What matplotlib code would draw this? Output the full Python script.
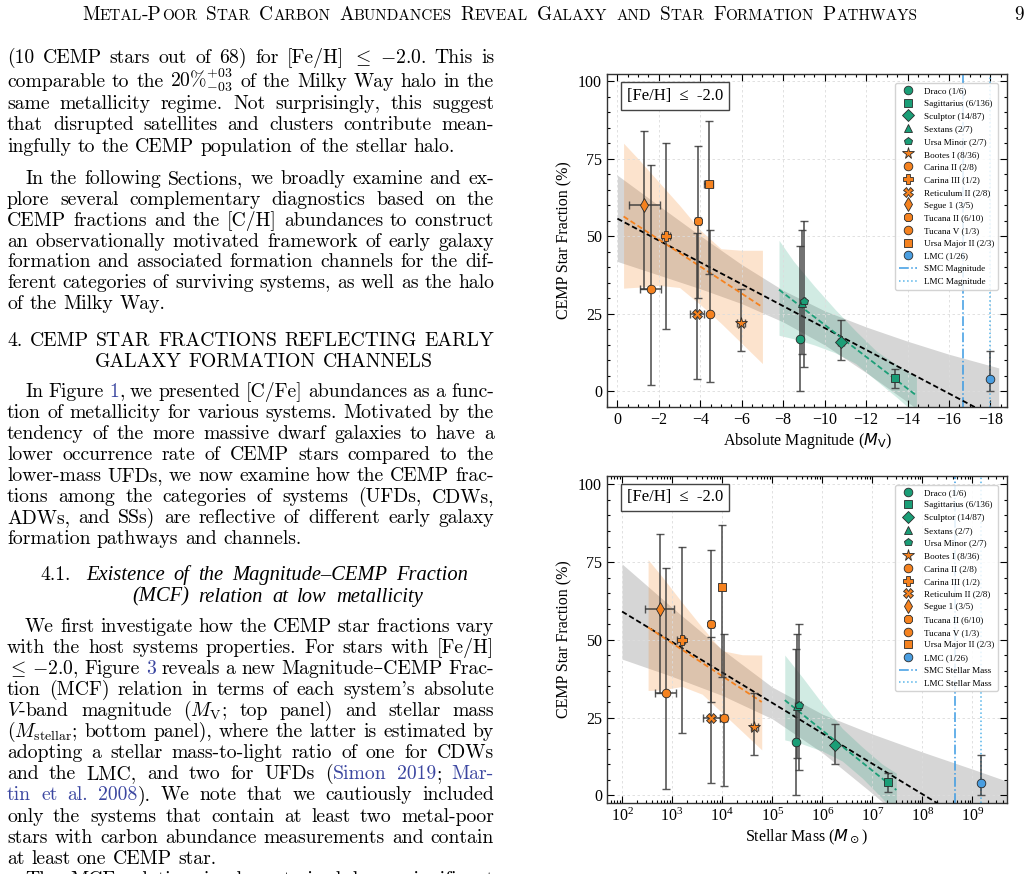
import re
import matplotlib
matplotlib.use('Agg')
import matplotlib.pyplot as plt
from matplotlib.transforms import IdentityTransform
from matplotlib.ticker import MultipleLocator, AutoMinorLocator, LogLocator, NullFormatter

W, H = 1034, 874

# ---------------- data ----------------
systems = ['Draco', 'Sagittarius', 'Sculptor', 'Sextans', 'Ursa Minor',
           'Bootes I', 'Carina II', 'Carina III', 'Reticulum II', 'Segue 1',
           'Tucana II', 'Tucana V', 'Ursa Major II', 'LMC']
counts = ['1/6', '6/136', '14/87', '2/7', '2/7', '8/36', '2/8', '1/2', '2/8',
          '3/5', '6/10', '1/3', '2/3', '1/26']
kinds = ['CDW'] * 5 + ['UFD'] * 8 + ['LMC']
markers = ['o', 's', 'D', '^', 'p', '*', 'o', 'P', 'X', 'd', '8', 'o', 's', 'o']

frac = [17, 4.4, 16, 28.6, 29, 22, 25, 50, 25, 60, 55, 33, 67, 4]
frac_hi = [47, 7.1, 23, 52, 55, 33, 52, 80, 51, 84, 79, 73, 87, 13]
frac_lo = [0, 1.1, 10, 12, 8, 13, 3, 20, 4, 33, 30, 2, 38, 0]

mv = [-8.8, -13.4, -10.8, -8.9, -9.0, -5.95, -4.45, -2.35, -3.85, -1.3,
      -3.9, -1.6, -4.4, -18.0]
mv_err = [0.05, 0.1, 0.14, 0.06, 0.06, 0.2, 0.1, 0.2, 0.35, 0.75, 0.15, 0.5,
          0.2, 0.05]

mstar = [3.0e5, 2.1e7, 1.8e6, 3.1e5, 3.5e5, 4.4e4, 1.07e4, 1.55e3, 6.1e3,
         5.6e2, 6.1e3, 7.6e2, 9.9e3, 1.5e9]
mstar_errlo = [3e4, 2e6, 2e5, 3e4, 3e4, 7e3, 1.5e3, 300, 1.9e3, 275, 800,
               295, 1.3e3, 1e8]
mstar_errhi = [3e4, 2e6, 2e5, 3e4, 3e4, 7e3, 1.5e3, 300, 2.8e3, 535, 800,
               455, 1.3e3, 1e8]

smc_mv, lmc_mv = -16.7, -18.0
smc_mass, lmc_mass = 4.4e8, 1.5e9

# fits and confidence bands, magnitude panel
all_fit_mv = [0, -18.4]
all_fit_mv_y = [55.7, -9.1]
all_band_mv = [0, -2, -4, -6, -8, -10, -12, -14, -16, -18.4]
all_band_mv_hi = [69.7, 59.9, 50.2, 40.9, 32.6, 26.0, 20.8, 16.2, 12.0, 7.6]
all_band_mv_lo = [41.9, 37.5, 33.1, 28.3, 22.4, 15.0, 6.1, -3.4, -13.2, -25.3]

ufd_fit_mv = [-0.3, -7]
ufd_fit_mv_y = [56.4, 27.2]
ufd_band_mv = [-0.3, -1, -2, -3, -4, -5, -6, -7]
ufd_band_mv_hi = [80, 75, 67.5, 60, 52, 46, 45.5, 45.5]
ufd_band_mv_lo = [33.3, 33.6, 34.2, 33.5, 28, 22, 15.5, 9]

cdw_fit_mv = [-7.8, -14.43]
cdw_fit_mv_y = [32.8, -1.3]
cdw_band_mv = [-7.8, -8.5, -9.5, -10.5, -11.5, -12.5, -13.5, -14.43]
cdw_band_mv_hi = [48.7, 42, 34, 26.5, 19.5, 13, 8.5, 4.6]
cdw_band_mv_lo = [18.1, 17, 15, 12.5, 9, 3.5, -2, -7.5]

# fits and confidence bands, stellar mass panel
all_fit_m = [1e2, 4.9e9]
all_fit_m_y = [59.1, -16.2]
all_band_m = [1e2, 1e3, 1e4, 1e5, 1e6, 1e7, 1e8, 1e9, 4.9e9]
all_band_m_hi = [74.4, 60.4, 46.9, 34.8, 26.1, 19.7, 13.9, 8.4, 4.5]
all_band_m_lo = [43.8, 38.2, 32.1, 24.6, 13.7, 0.6, -13.3, -27.4, -36.9]

ufd_fit_m = [331, 6.17e4]
ufd_fit_m_y = [54, 30]
ufd_band_m = [331, 631, 1585, 3981, 1e4, 2.51e4, 6.17e4]
ufd_band_m_hi = [75.8, 70.3, 62, 54, 46.5, 45.2, 45.1]
ufd_band_m_lo = [33.7, 33.9, 35, 32.5, 26.5, 20.5, 14.6]

cdw_fit_m = [1.78e5, 3.02e7]
cdw_fit_m_y = [30.6, 1.7]
cdw_band_m = [1.78e5, 3.98e5, 1e6, 2.51e6, 6.31e6, 1.58e7, 3.02e7]
cdw_band_m_hi = [45.1, 38, 29.5, 21.5, 15.5, 10, 7.1]
cdw_band_m_lo = [17.8, 16.5, 14.2, 11, 5.5, -1, -6]

# page text
header = "Metal-Poor Star Carbon Abundances Reveal Galaxy and Star Formation Pathways"
para1 = ["(10 CEMP stars out of 68) for [Fe/H] $\\leq$ $-2.0$. This is",
         "comparable to the $20\\%^{+03}_{-03}$ of the Milky Way halo in the",
         "same metallicity regime. Not surprisingly, this suggest",
         "that disrupted satellites and clusters contribute mean-",
         "ingfully to the CEMP population of the stellar halo."]
para2 = ["In the following Sections, we broadly examine and ex-",
         "plore several complementary diagnostics based on the",
         "CEMP fractions and the [C/H] abundances to construct",
         "an observationally motivated framework of early galaxy",
         "formation and associated formation channels for the dif-",
         "ferent categories of surviving systems, as well as the halo",
         "of the Milky Way."]
section = ["4. CEMP STAR FRACTIONS REFLECTING EARLY",
           "GALAXY FORMATION CHANNELS"]
para3 = ["In Figure <1>, we presented [C/Fe] abundances as a func-",
         "tion of metallicity for various systems. Motivated by the",
         "tendency of the more massive dwarf galaxies to have a",
         "lower occurrence rate of CEMP stars compared to the",
         "lower-mass UFDs, we now examine how the CEMP frac-",
         "tions among the categories of systems (UFDs, CDWs,",
         "ADWs, and SSs) are reflective of different early galaxy",
         "formation pathways and channels."]
subsection = ["Existence of the Magnitude\u2013CEMP Fraction",
              "(MCF) relation at low metallicity"]
para4 = ["We first investigate how the CEMP star fractions vary",
         "with the host systems properties. For stars with [Fe/H]",
         "$\\leq$ $-2.0$, Figure <3> reveals a new Magnitude\u2013CEMP Frac-",
         "tion (MCF) relation in terms of each system's absolute",
         "$V$-band magnitude ($M_\\mathrm{V}$; top panel) and stellar mass",
         "($M_\\mathrm{stellar}$; bottom panel), where the latter is estimated by",
         "adopting a stellar mass-to-light ratio of one for CDWs",
         "and the LMC, and two for UFDs (<Simon> <2019>; <Mar->",
         "<tin> <et> <al.> <2008>). We note that we cautiously included",
         "only the systems that contain at least two metal-poor",
         "stars with carbon abundance measurements and contain",
         "at least one CEMP star.",
         "The MCF relation is characterized by a significant"]

# ---------------- style ----------------
plt.rcParams['font.family'] = ['Liberation Serif', 'DejaVu Serif']
plt.rcParams['axes.unicode_minus'] = True

ORANGE = '#f5821f'
GREEN = '#1b9e77'
BLUE = '#4a9ee0'
kind_color = {'CDW': GREEN, 'UFD': ORANGE, 'LMC': BLUE}
LINK = '#3b46a0'
BODY_FONT = ['cmr10', 'DejaVu Serif']
BODY = 14.2
LEFT, RIGHT = 7, 494

fig = plt.figure(figsize=(W / 100, H / 100), dpi=100)
renderer = fig.canvas.get_renderer()


def seg(s, color='black', size=BODY, **kw):
    props = dict(family=BODY_FONT, math_fontfamily='cm')
    props.update(kw)
    return fig.text(0, 0, s, transform=IdentityTransform(), fontsize=size,
                    color=color, va='baseline', ha='left', **props)


def parse_word(word, **kw):
    out = []
    for p in re.split(r'(<[^>]*>)', word):
        if not p:
            continue
        if p.startswith('<'):
            out.append(seg(p[1:-1], color=LINK, **kw))
        else:
            out.append(seg(p, **kw))
    return out


def place(words, y_img, x0, x1=None, space=6.5):
    # words: list of lists of Text objects; justified if x1 is given
    y = H - y_img
    widths = [[t.get_window_extent(renderer).width for t in w] for w in words]
    total = sum(sum(w) for w in widths)
    gap = space
    if x1 is not None and len(words) > 1:
        gap = (x1 - x0 - total) / (len(words) - 1)
    x = x0
    for w, ws in zip(words, widths):
        for t, wd in zip(w, ws):
            t.set_position((x, y))
            x += wd
        x += gap


def paragraph(lines, y0, step, indent=True, last_full=False):
    for i, line in enumerate(lines):
        words = [parse_word(w) for w in line.split()]
        x0 = LEFT + (18 if (indent and i == 0) else 0)
        full = (i < len(lines) - 1) or last_full
        place(words, y0 + i * step, x0, RIGHT if full else None)


def smallcaps(word, big, small):
    parts = []
    for c in word:
        size = big if (c.isupper() or not c.isalpha()) else small
        ch = c.upper()
        if parts and parts[-1][1] == size:
            parts[-1][0] += ch
        else:
            parts.append([ch, size])
    return [seg(p, size=s) for p, s in parts]


# header
place([smallcaps(w, 13.9, 11.0) for w in header.split()], 20.5, 82, 917)
seg('9', size=13.9).set_position((1014, H - 20.5))

paragraph(para1[:1], 63.3, 21.5, indent=False, last_full=True)
paragraph(para1[1:], 87.0, 21.6, indent=False)
paragraph(para2, 184.5, 20.7)
place([parse_word(w) for w in section[0].split()], 346, LEFT, RIGHT)
place([parse_word(w) for w in section[1].split()], 366.7, 95, 433)
paragraph(para3, 396.7, 21.1)
place([parse_word('4.1.')], 580, 40)
place([parse_word(w, family=['Liberation Serif', 'DejaVu Serif'], style='italic',
                   size=14.8) for w in subsection[0].split()], 580, 86, 468)
place([parse_word(w, family=['Liberation Serif', 'DejaVu Serif'], style='italic',
                   size=14.8) for w in subsection[1].split()], 601.7, 132, 423)
paragraph(para4[:12], 631.7, 21.1)
paragraph(para4[12:], 631.7 + 12 * 21.1, 21.1, last_full=True)

# ---------------- the two panels ----------------
ax1 = fig.add_axes([607 / W, 1 - 407 / H, 400 / W, 333 / H])
ax2 = fig.add_axes([607 / W, 1 - 803 / H, 400 / W, 327.3 / H])


def draw_panel(ax, xs, xlo, xhi, bands, fits, vlines, vlabels):
    for (bx, bhi, blo), col, a in bands:
        ax.fill_between(bx, blo, bhi, color=col, alpha=a, lw=0, zorder=1)
    for (fx, fy), col in fits:
        ax.plot(fx, fy, ls=(0, (3, 1.6)), color=col, lw=1.3, zorder=3)
    for i, name in enumerate(systems):
        col = kind_color[kinds[i]]
        ax.errorbar(xs[i], frac[i], xerr=[[xlo[i]], [xhi[i]]],
                    yerr=[[frac[i] - frac_lo[i]], [frac_hi[i] - frac[i]]],
                    fmt='none', ecolor='#3a3a3a', elinewidth=1.2, capsize=2.6,
                    capthick=1.0, alpha=0.85, zorder=4)
        ms = {'*': 8.5, 'D': 6.0, 'd': 7.0, 'P': 7.0, 'X': 7.0}.get(markers[i], 6.2)
        ax.plot(xs[i], frac[i], ls='none', marker=markers[i], ms=ms, mfc=col,
                mec='#2a2a2a', mew=0.6, zorder=5,
                label=f'{name} ({counts[i]})')
    ax.axvline(vlines[0], color='#3c9be3', ls='-.', lw=1.1, zorder=2,
               label=vlabels[0])
    ax.axvline(vlines[1], color='#56b4e9', ls=':', lw=1.1, zorder=2,
               label=vlabels[1])
    ax.grid(True, which='major', ls=(0, (3, 3)), lw=0.6, color='#dcdcdc', zorder=0)
    ax.tick_params(which='both', direction='in', top=True, right=True,
                   labelsize=11.5, width=0.8)
    ax.tick_params(which='major', length=5)
    ax.tick_params(which='minor', length=2.5)
    ax.set_ylabel('CEMP Star Fraction (%)', fontsize=11.5)
    ax.yaxis.set_major_locator(MultipleLocator(25))
    ax.yaxis.set_minor_locator(MultipleLocator(5))
    for s in ax.spines.values():
        s.set_linewidth(1.0)
        s.set_color('#333333')
    ax.text(0.05, 0.958, '[Fe/H]  \u2264  -2.0', transform=ax.transAxes,
            fontsize=12, va='top', ha='left', zorder=7,
            bbox=dict(boxstyle='square,pad=0.35', fc='white', ec='#444444', lw=1.0))
    leg = ax.legend(loc='upper right', fontsize=6.6, framealpha=0.85,
                    edgecolor='#cccccc', fancybox=True, labelspacing=0.47,
                    borderaxespad=0.98, borderpad=0.4, handlelength=2.0,
                    handletextpad=0.75)
    leg.set_zorder(8)


draw_panel(ax1, mv, mv_err, mv_err,
           [((all_band_mv, all_band_mv_hi, all_band_mv_lo), 'gray', 0.32),
            ((ufd_band_mv, ufd_band_mv_hi, ufd_band_mv_lo), ORANGE, 0.22),
            ((cdw_band_mv, cdw_band_mv_hi, cdw_band_mv_lo), GREEN, 0.2)],
           [((all_fit_mv, all_fit_mv_y), 'black'),
            ((ufd_fit_mv, ufd_fit_mv_y), ORANGE),
            ((cdw_fit_mv, cdw_fit_mv_y), GREEN)],
           [smc_mv, lmc_mv], ['SMC Magnitude', 'LMC Magnitude'])
ax1.set_xlim(0.5, -18.8)
ax1.set_ylim(-5, 102.3)
ax1.xaxis.set_major_locator(MultipleLocator(2))
ax1.xaxis.set_minor_locator(AutoMinorLocator(4))
ax1.set_xlabel('Absolute Magnitude ($M_{\\rm V}$)', fontsize=11.5, labelpad=2)

draw_panel(ax2, mstar, mstar_errlo, mstar_errhi,
           [((all_band_m, all_band_m_hi, all_band_m_lo), 'gray', 0.32),
            ((ufd_band_m, ufd_band_m_hi, ufd_band_m_lo), ORANGE, 0.22),
            ((cdw_band_m, cdw_band_m_hi, cdw_band_m_lo), GREEN, 0.2)],
           [((all_fit_m, all_fit_m_y), 'black'),
            ((ufd_fit_m, ufd_fit_m_y), ORANGE),
            ((cdw_fit_m, cdw_fit_m_y), GREEN)],
           [smc_mass, lmc_mass], ['SMC Stellar Mass', 'LMC Stellar Mass'])
ax2.set_xscale('log')
ax2.set_xlim(50, 4.9e9)
ax2.set_ylim(-2.5, 102.8)
ax2.xaxis.set_major_locator(LogLocator(base=10, numticks=20))
ax2.xaxis.set_minor_locator(LogLocator(base=10, subs=range(2, 10), numticks=20))
ax2.xaxis.set_minor_formatter(NullFormatter())
ax2.set_xlabel('Stellar Mass ($M_\\odot$)', fontsize=11.5, labelpad=2)

fig.savefig('out.png', dpi=100, facecolor='white')
